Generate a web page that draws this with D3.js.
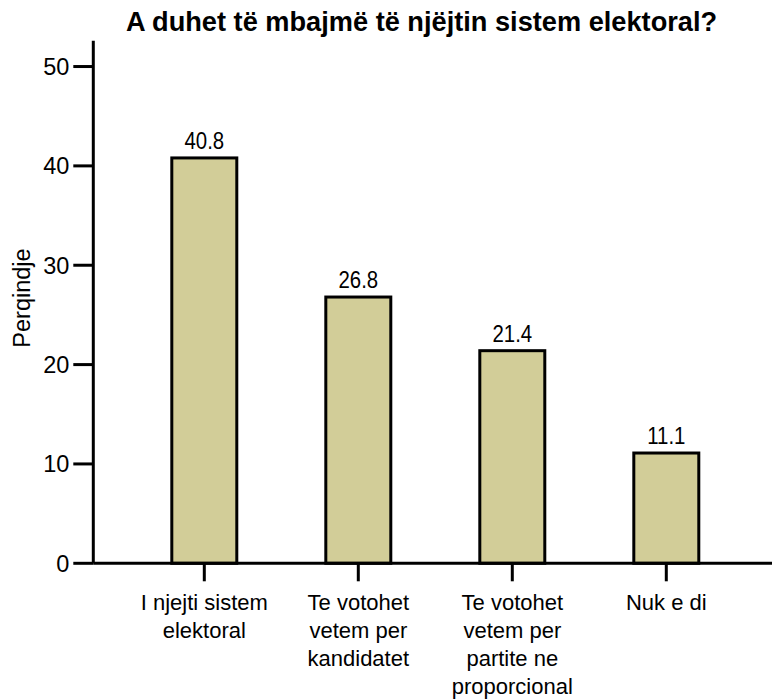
<!DOCTYPE html>
<html>
<head>
<meta charset="utf-8">
<script src="https://cdn.jsdelivr.net/npm/d3@7"></script>
<style>
  html, body { margin: 0; padding: 0; background: #fff; }
  svg { display: block; font-family: "Liberation Sans", Arial, sans-serif; }
</style>
</head>
<body>
<svg id="chart" width="772" height="700"></svg>
<script>
// Survey answers and their shares (percent)
const categories = ["c1", "c2", "c3", "c4"];
const categoryLines = [
  ["I njejti sistem", "elektoral"],
  ["Te votohet", "vetem per", "kandidatet"],
  ["Te votohet", "vetem per", "partite ne", "proporcional"],
  ["Nuk e di"]
];
const values = [40.8, 26.8, 21.4, 11.1];
const yTicks = [0, 10, 20, 30, 40, 50];
const titleText = "A duhet të mbajmë të njëjtin sistem elektoral?";
const yLabel = "Perqindje";

const svg = d3.select("#chart");

const axisX = 93.3;       // left edge of the plot (y axis position)
const baseY = 563.3;      // y position of the zero line
const topY = 40.7;        // top end of the y axis line

const y = d3.scaleLinear().domain([0, 52.6]).range([baseY, topY]);
const x = d3.scaleBand()
  .domain(categories)
  .range([127.3, 743.3])
  .paddingInner(0.578)
  .paddingOuter(0.289);

const barFill = "#d2cd98";

// Bars
svg.append("g").selectAll("rect")
  .data(values)
  .join("rect")
  .attr("x", (d, i) => x(categories[i]))
  .attr("y", d => y(d))
  .attr("width", x.bandwidth())
  .attr("height", d => baseY - y(d))
  .attr("fill", barFill)
  .attr("stroke", "#000")
  .attr("stroke-width", 3);

// Value labels above bars, set in a condensed face
svg.append("g").selectAll("text")
  .data(values)
  .join("text")
  .attr("transform", (d, i) =>
    `translate(${x(categories[i]) + x.bandwidth() / 2},${y(d) - 9}) scale(0.85,1)`)
  .attr("text-anchor", "middle")
  .attr("font-size", 24)
  .attr("fill", "#000")
  .text(d => d.toFixed(1));

// Y axis
const yAxis = svg.append("g");
yAxis.append("line")
  .attr("x1", axisX).attr("x2", axisX)
  .attr("y1", topY).attr("y2", baseY)
  .attr("stroke", "#000").attr("stroke-width", 3);
const yt = yAxis.selectAll("g.tick").data(yTicks).join("g").attr("class", "tick");
yt.append("line")
  .attr("x1", axisX - 20).attr("x2", axisX)
  .attr("y1", d => y(d)).attr("y2", d => y(d))
  .attr("stroke", "#000").attr("stroke-width", 3);
yt.append("text")
  .attr("x", axisX - 24)
  .attr("y", d => y(d))
  .attr("dy", "0.36em")
  .attr("text-anchor", "end")
  .attr("font-size", 23.5)
  .text(d => d);

// X axis
const xAxis = svg.append("g");
xAxis.append("line")
  .attr("x1", axisX).attr("x2", 772)
  .attr("y1", baseY).attr("y2", baseY)
  .attr("stroke", "#000").attr("stroke-width", 3);
const xt = xAxis.selectAll("g.tick").data(categories).join("g").attr("class", "tick")
  .attr("transform", d => `translate(${x(d) + x.bandwidth() / 2},0)`);
xt.append("line")
  .attr("x1", 0).attr("x2", 0)
  .attr("y1", baseY).attr("y2", baseY + 18)
  .attr("stroke", "#000").attr("stroke-width", 3);
xt.append("text")
  .attr("text-anchor", "middle")
  .attr("font-size", 22)
  .selectAll("tspan")
  .data((d, i) => categoryLines[i])
  .join("tspan")
  .attr("x", 0)
  .attr("y", (d, j) => 610 + j * 28)
  .text(d => d);

// Y axis label
svg.append("text")
  .attr("transform", "translate(29.5,298) rotate(-90)")
  .attr("text-anchor", "middle")
  .attr("font-size", 23.5)
  .text(yLabel);

// Title
svg.append("text")
  .attr("x", 421.5)
  .attr("y", 31)
  .attr("text-anchor", "middle")
  .attr("font-size", 27.2)
  .attr("font-weight", "bold")
  .text(titleText);
</script>
</body>
</html>
